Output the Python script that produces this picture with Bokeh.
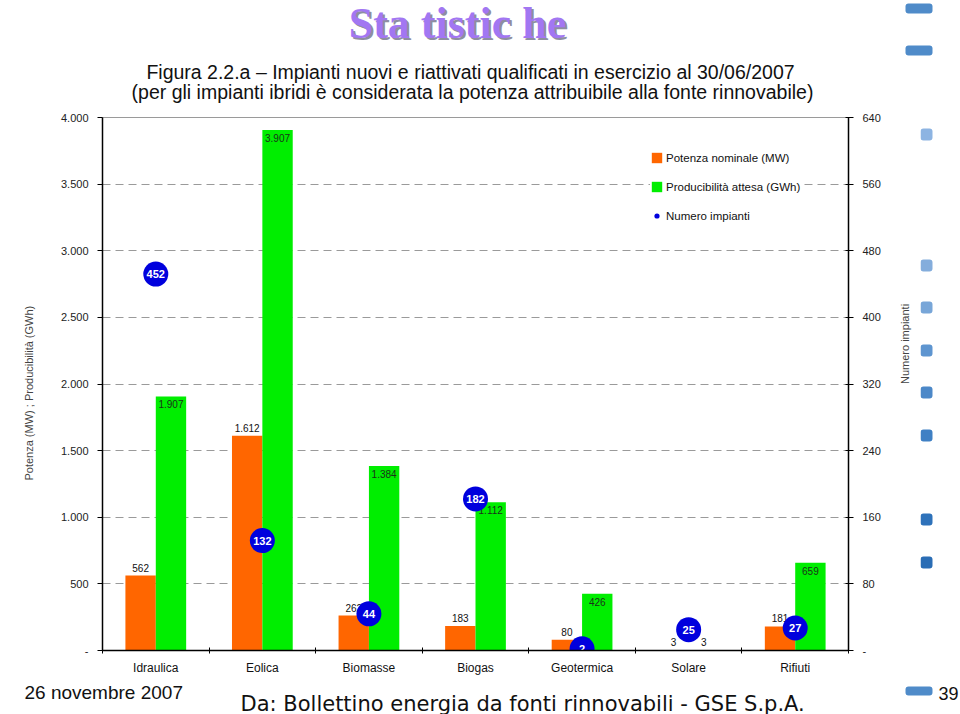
import math
from bokeh.plotting import figure
from bokeh.layouts import column, row
from bokeh.models import (Range1d, LinearAxis, FixedTicker, BoxAnnotation,
                          Legend, LegendItem, ColumnDataSource)
from bokeh.transform import dodge
from bokeh.core.properties import value
from bokeh.embed import file_html
from bokeh.resources import INLINE

# ---------------- data ----------------
categories = ["Idraulica", "Eolica", "Biomasse", "Biogas", "Geotermica", "Solare", "Rifiuti"]
potenza = [562, 1612, 262, 183, 80, 3, 181]            # MW
producibilita = [1907, 3907, 1384, 1112, 426, 3, 659]  # GWh
impianti = [452, 132, 44, 182, 2, 25, 27]              # numero impianti
left_ticks = [0, 500, 1000, 1500, 2000, 2500, 3000, 3500, 4000]
left_tick_labels = ["-", "500", "1.000", "1.500", "2.000", "2.500", "3.000", "3.500", "4.000"]
right_ticks = [0, 80, 160, 240, 320, 400, 480, 560, 640]
right_tick_labels = ["-", "80", "160", "240", "320", "400", "480", "560", "640"]

title_text = "Sta tistic he"
subtitle_1 = "Figura 2.2.a \u2013 Impianti nuovi e riattivati qualificati in esercizio al 30/06/2007"
subtitle_2 = "(per gli impianti ibridi è considerata la potenza attribuibile alla fonte rinnovabile)"
footer_date = "26 novembre 2007"
footer_src = "Da: Bollettino energia da fonti rinnovabili - GSE S.p.A."
page_num = "39"


def it_fmt(v):
    return f"{v:,}".replace(",", ".")


FONT = "Liberation Sans"
NARROW = "'Liberation Sans Narrow', 'Liberation Sans'"
W = 960
HEAD_H, MAIN_H, FOOT_H = 110, 570, 34
MAIN_W = 920
STRIP_W = W - MAIN_W
FRAME_TOP, FRAME_BOTTOM = 117, 650   # page pixels of the chart frame
FRAME_LEFT, FRAME_RIGHT = 102, 848


def blank_fig(width, height, x0, x1, y_top, y_bottom):
    """Helper figure whose data coordinates equal page pixels."""
    f = figure(width=width, height=height, x_range=Range1d(x0, x1),
               y_range=Range1d(y_bottom, y_top), output_backend="svg",
               toolbar_location=None, x_axis_type=None, y_axis_type=None,
               min_border_left=0, min_border_right=0, min_border_top=0,
               min_border_bottom=0, background_fill_color="white",
               border_fill_color="white")
    f.outline_line_color = None
    f.xgrid.visible = False
    f.ygrid.visible = False
    return f


def block(f, l, r, t, b, color):
    f.add_layout(BoxAnnotation(left=l, right=r, top=t, bottom=b,
                               fill_color=color, fill_alpha=1, line_color=None,
                               border_radius=3))


# ---------------- header ----------------
head = blank_fig(W, HEAD_H, 0, W, 0, HEAD_H)
head.text(x=[459], y=[25], text=[title_text], text_align="center",
          text_baseline="middle", text_font=value("Liberation Serif"),
          text_font_style="bold", text_font_size="44px", text_color="#8e8ea0")
head.text(x=[457], y=[23], text=[title_text], text_align="center",
          text_baseline="middle", text_font=value("Liberation Serif"),
          text_font_style="bold", text_font_size="44px", text_color="#A277F2")
head.text(x=[470, 472], y=[71, 91], text=[subtitle_1, subtitle_2],
          text_align="center", text_baseline="middle", text_font=value(NARROW),
          text_font_size="19.5px", text_color="#111111")
block(head, 905, 932, 3, 13, "#4F8BC9")
block(head, 905, 932, 45, 55, "#4F8BC9")

# ---------------- main chart ----------------
centers = [i + 0.5 for i in range(len(categories))]
BAR_W = 0.285
OFF = BAR_W / 2

p = figure(width=MAIN_W, height=MAIN_H, x_range=Range1d(0, len(categories)),
           y_range=Range1d(0, 4000), output_backend="svg", toolbar_location=None,
           min_border_left=FRAME_LEFT, min_border_right=MAIN_W - FRAME_RIGHT,
           min_border_top=FRAME_TOP - HEAD_H,
           min_border_bottom=HEAD_H + MAIN_H - FRAME_BOTTOM,
           background_fill_color="white", border_fill_color="white")
p.outline_line_color = "#9a9a9a"
p.outline_line_width = 1
p.extra_y_ranges = {"n": Range1d(0, 640)}

p.xgrid.visible = False
p.ygrid.ticker = FixedTicker(ticks=left_ticks[1:-1])
p.ygrid.grid_line_color = "#9a9a9a"
p.ygrid.grid_line_dash = "8 5"
p.ygrid.grid_line_width = 1

ya = p.yaxis[0]
ya.ticker = FixedTicker(ticks=left_ticks)
ya.major_label_overrides = dict(zip(left_ticks, left_tick_labels))
ya.minor_tick_line_color = None
ya.major_tick_in = 0
ya.major_tick_out = 5
ya.major_label_standoff = 9
ya.axis_line_width = 1.5
ya.axis_line_color = "black"
ya.major_tick_line_color = "black"
ya.major_label_text_font = FONT
ya.major_label_text_font_size = "11px"
ya.major_label_text_color = "#222222"
ya.axis_label = "Potenza (MW)    ;    Producibilità (GWh)"
ya.axis_label_text_font = FONT
ya.axis_label_text_font_size = "11px"
ya.axis_label_text_font_style = "normal"
ya.axis_label_text_color = "#444444"
ya.axis_label_standoff = 23

ra = LinearAxis(y_range_name="n", ticker=FixedTicker(ticks=right_ticks))
ra.major_label_overrides = dict(zip(right_ticks, right_tick_labels))
ra.minor_tick_line_color = None
ra.major_tick_in = 3
ra.major_tick_out = 5
ra.major_label_standoff = 9
ra.axis_line_width = 1.5
ra.axis_line_color = "black"
ra.major_label_text_font = FONT
ra.major_label_text_font_size = "11px"
ra.major_label_text_color = "#222222"
ra.axis_label = "Numero impianti"
ra.axis_label_text_font = FONT
ra.axis_label_text_font_size = "11px"
ra.axis_label_text_font_style = "normal"
ra.axis_label_text_color = "#444444"
ra.axis_label_standoff = 21
ra.axis_label_orientation = math.pi / 2
p.add_layout(ra, "right")

xa = p.xaxis[0]
xa.ticker = FixedTicker(ticks=centers, minor_ticks=list(range(len(categories) + 1)))
xa.major_label_overrides = dict(zip(centers, categories))
xa.major_tick_line_color = None
xa.minor_tick_line_color = "black"
xa.minor_tick_in = 3
xa.minor_tick_out = 3
xa.axis_line_width = 1.5
xa.axis_line_color = "black"
xa.major_label_standoff = 4
xa.major_label_text_font = FONT
xa.major_label_text_font_size = "12px"
xa.major_label_text_color = "#111111"

src = ColumnDataSource(dict(
    x=centers, cat=categories, pot=potenza, prod=producibilita, imp=impianti,
    pot_lbl=[it_fmt(v) for v in potenza],
    imp_lbl=[str(v) for v in impianti],
))

r_pot = p.vbar(x=dodge("x", -OFF, range=p.x_range), top="pot", width=BAR_W,
               source=src, fill_color="#FF6600", line_color=None)
r_prod = p.vbar(x=dodge("x", OFF, range=p.x_range), top="prod", width=BAR_W,
                source=src, fill_color="#00EE00", line_color=None)

p.text(x=dodge("x", -OFF, range=p.x_range), y="pot", text="pot_lbl", source=src,
       text_align="center", text_baseline="bottom", y_offset=-4,
       text_font=value(FONT), text_font_size="10px", text_color="#111111")

tall = [v >= 200 for v in producibilita]
src_in = ColumnDataSource(dict(
    x=[c for c, t in zip(centers, tall) if t],
    y=[v for v, t in zip(producibilita, tall) if t],
    t=[it_fmt(v) for v, t in zip(producibilita, tall) if t]))
src_out = ColumnDataSource(dict(
    x=[c for c, t in zip(centers, tall) if not t],
    y=[v for v, t in zip(producibilita, tall) if not t],
    t=[it_fmt(v) for v, t in zip(producibilita, tall) if not t]))
p.text(x=dodge("x", OFF, range=p.x_range), y="y", text="t", source=src_in,
       text_align="center", text_baseline="top", y_offset=4,
       text_font=value(FONT), text_font_size="10px", text_color="#1a331a")
p.text(x=dodge("x", OFF, range=p.x_range), y="y", text="t", source=src_out,
       text_align="center", text_baseline="bottom", y_offset=-4,
       text_font=value(FONT), text_font_size="10px", text_color="#111111")

r_imp = p.scatter(x="x", y="imp", source=src, y_range_name="n", size=25,
                  fill_color="#0000DD", line_color=None)
p.text(x="x", y="imp", text="imp_lbl", source=src, y_range_name="n",
       text_align="center", text_baseline="middle",
       text_font=value(FONT), text_font_size="11px", text_font_style="bold",
       text_color="white")

legend = Legend(items=[
    LegendItem(label="Potenza nominale (MW)", renderers=[r_pot]),
    LegendItem(label="Producibilità attesa (GWh)", renderers=[r_prod]),
    LegendItem(label="Numero impianti", renderers=[r_imp]),
], location=(548, 428), orientation="vertical")
legend.glyph_width = 13
legend.glyph_height = 13
legend.label_height = 13
legend.spacing = 16
legend.padding = 10
legend.margin = 0
legend.label_standoff = 3
legend.label_text_font = FONT
legend.label_text_font_size = "11.5px"
legend.label_text_color = "#111111"
legend.background_fill_color = "white"
legend.background_fill_alpha = 1
legend.border_line_color = None
p.add_layout(legend)

# ---------------- right decorative strip ----------------
# (its frame is aligned with the chart frame by the row layout)
strip = blank_fig(STRIP_W, MAIN_H, MAIN_W, W, FRAME_TOP, FRAME_BOTTOM)
small_y = [134, 265, 307, 350, 392, 435, 519, 562]
small_c = ["#8DB4E2", "#84ADDC", "#78A6D8", "#5E95D0", "#4C88C8", "#3F80C4", "#2E72BA", "#2A6DB5"]
for yc, col in zip(small_y, small_c):
    block(strip, 920, 932, yc - 6, yc + 6, col)

# ---------------- footer ----------------
y0 = HEAD_H + MAIN_H
foot = blank_fig(W, FOOT_H, 0, W, y0, y0 + FOOT_H)
foot.text(x=[24], y=[692], text=[footer_date], text_align="left",
          text_baseline="middle", text_font=value(FONT), text_font_size="19px",
          text_color="#111111")
foot.text(x=[240], y=[703], text=[footer_src], text_align="left",
          text_baseline="middle", text_font=value("DejaVu Sans"),
          text_font_size="21px", text_color="#111111")
foot.text(x=[958], y=[693], text=[page_num], text_align="right",
          text_baseline="middle", text_font=value(FONT), text_font_size="18px",
          text_color="#111111")
block(foot, 905, 932, 686, 695, "#4F8BC9")

page = column(head, row(p, strip, spacing=0), foot, spacing=0)

open("out.html", "w").write(file_html(page, INLINE))
